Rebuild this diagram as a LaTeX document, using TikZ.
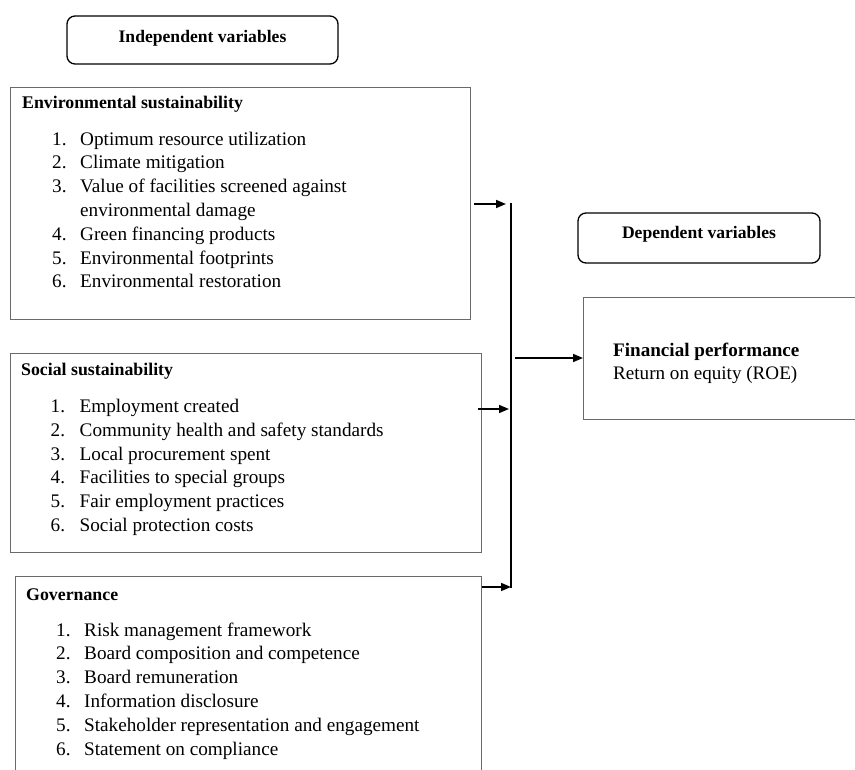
\documentclass[tikz,border=0pt]{standalone}
\usepackage{fontspec}
\setmainfont{Liberation Serif}
\usetikzlibrary{arrows.meta}
\definecolor{boxgray}{HTML}{6A6A6A}
\begin{document}
\begin{tikzpicture}[x=1pt,y=-1pt,
  hdr/.style={draw=black, line width=1.3pt, rounded corners=8pt, inner sep=0pt,
              text height=11.5pt, font=\bfseries\fontsize{17.6}{21}\selectfont},
  panel/.style={draw=boxgray, line width=0.9pt, inner sep=0pt, anchor=north west},
  itm/.style={anchor=base west, inner sep=0pt, font=\fontsize{19.2}{23}\selectfont},
  ttl/.style={anchor=base west, inner sep=0pt, font=\bfseries\fontsize{17.8}{21}\selectfont},
  fintxt/.style={anchor=base west, inner sep=0pt, font=\fontsize{19.1}{23}\selectfont},
  arr/.style={line width=1.5pt, -{Triangle[length=10pt,width=8pt]}},
  busline/.style={line width=1.7pt}]
\useasboundingbox (0,0) rectangle (855,770);
\clip (0,0) rectangle (855,770);

% header boxes
\node[hdr, minimum width=271pt, minimum height=48pt, text depth=6.5pt] (indep) at (202.5,40) {Independent variables};
\node[hdr, minimum width=242pt, minimum height=50pt, text depth=9.5pt] (dep) at (699,238) {Dependent variables};

% panels
\node[panel, minimum width=460pt, minimum height=232pt] (env) at (10,87) {};
\node[panel, minimum width=471.5pt, minimum height=199pt] (soc) at (9.5,353) {};
\node[panel, minimum width=466pt, minimum height=210pt] (gov) at (15,576) {};
\node[panel, minimum width=280pt, minimum height=122pt] (fin) at (583,297) {};

% environmental
\node[ttl] (et) at (22,109) {Environmental sustainability};
\node[itm] (en1) at (52,145.5) {1.}; \node[itm] (e1) at (80,145.5) {Optimum resource utilization};
\node[itm] (en2) at (52,169) {2.};   \node[itm] (e2) at (80,169) {Climate mitigation};
\node[itm] (en3) at (52,192.5) {3.}; \node[itm] (e3) at (80,192.5) {Value of facilities screened against};
\node[itm] (e3b) at (80,216.5) {environmental damage};
\node[itm] (en4) at (52,240.5) {4.}; \node[itm] (e4) at (80,240.5) {Green financing products};
\node[itm] (en5) at (52,264.5) {5.}; \node[itm] (e5) at (80,264.5) {Environmental footprints};
\node[itm] (en6) at (52,288) {6.};   \node[itm] (e6) at (80,288) {Environmental restoration};

% social
\node[ttl] (st) at (21,376) {Social sustainability};
\node[itm] (sn1) at (50.5,412) {1.}; \node[itm] (s1) at (79.5,412) {Employment created};
\node[itm] (sn2) at (50.5,436) {2.}; \node[itm] (s2) at (79.5,436) {Community health and safety standards};
\node[itm] (sn3) at (50.5,460) {3.}; \node[itm] (s3) at (79.5,460) {Local procurement spent};
\node[itm] (sn4) at (50.5,483.5) {4.}; \node[itm] (s4) at (79.5,483.5) {Facilities to special groups};
\node[itm] (sn5) at (50.5,507.5) {5.}; \node[itm] (s5) at (79.5,507.5) {Fair employment practices};
\node[itm] (sn6) at (50.5,531) {6.}; \node[itm] (s6) at (79.5,531) {Social protection costs};

% governance
\node[ttl] (gt) at (26,600) {Governance};
\node[itm] (gn1) at (56,636) {1.}; \node[itm] (g1) at (84,636) {Risk management framework};
\node[itm] (gn2) at (56,659.5) {2.}; \node[itm] (g2) at (84,659.5) {Board composition and competence};
\node[itm] (gn3) at (56,683) {3.}; \node[itm] (g3) at (84,683) {Board remuneration};
\node[itm] (gn4) at (56,707) {4.}; \node[itm] (g4) at (84,707) {Information disclosure};
\node[itm] (gn5) at (56,731) {5.}; \node[itm] (g5) at (84,731) {Stakeholder representation and engagement};
\node[itm] (gn6) at (56,755) {6.}; \node[itm] (g6) at (84,755) {Statement on compliance};

% financial
\node[fintxt, font=\bfseries\fontsize{19.1}{23}\selectfont] (ft) at (613,356) {Financial performance};
\node[fintxt] (f1) at (613,379) {Return on equity (ROE)};

% bus and connectors
\coordinate (bt) at (511,203);
\coordinate (bb) at (511,588);
\coordinate (be) at (511,204);
\coordinate (bs) at (511,409);
\coordinate (bg) at (511,587);
\coordinate (bf) at (511,358);
\draw[busline] (bt) -- (bb);
\draw[arr] ([xshift=3pt]env.east |- be) -- ([xshift=-5pt]be);
\draw[arr] ([xshift=-4pt]soc.east |- bs) -- ([xshift=-2pt]bs);
\draw[arr] (gov.east |- bg) -- (bg);
\draw[arr] ([xshift=4pt]bf) -- (fin.west |- bf);
\end{tikzpicture}
\end{document}
